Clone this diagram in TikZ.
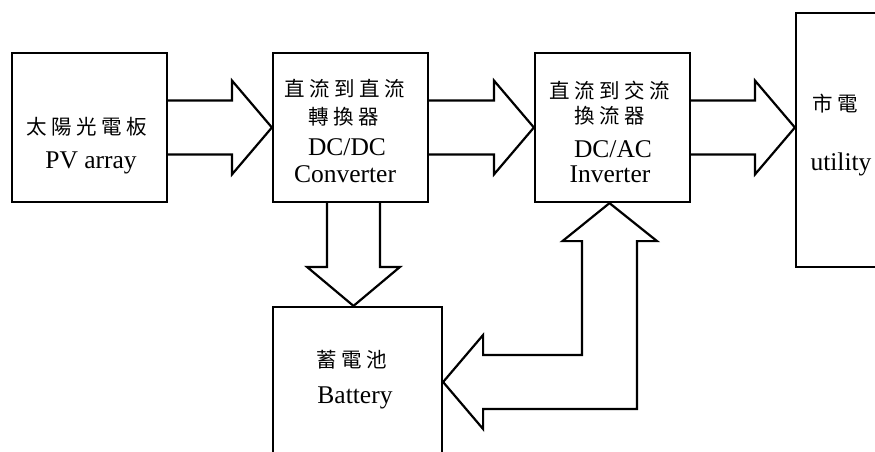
\documentclass[tikz,border=0pt]{standalone}
\usepackage{fontspec}
\setmainfont{Liberation Serif}
\newfontfamily\cjkf{Noto Sans CJK TC}
\usetikzlibrary{calc}
\def\cjs#1{{\cjkf\fontsize{20.5}{22}\selectfont\cjsi#1\relax\unskip}}
\def\cjsi#1{\ifx#1\relax\else#1\hspace{4.5pt}\expandafter\cjsi\fi}
\begin{document}
\begin{tikzpicture}[x=1pt,y=-1pt,line width=2.2pt,line join=miter,
  box/.style={draw,rectangle,inner sep=0pt,minimum width=155pt,minimum height=149pt},
  lat/.style={anchor=base,inner sep=0pt,font=\fontsize{25.5}{28}\selectfont},
  cjt/.style={anchor=base,inner sep=0pt},
  blk/.style={draw,line width=2.2pt}]
\useasboundingbox (0,0) rectangle (875,451);
\clip (0,0) rectangle (875,451);
% boxes
\node[box] (pv) at (89.5,127.5) {};
\node[box] (dc) at (350.5,127.5) {};
\node[box] (inv) at (612.5,127.5) {};
\node[box,minimum width=160pt,minimum height=254pt] (ut) at (876,140) {};
\node[box,minimum width=169pt,minimum height=160pt] (bat) at (357.5,387) {};
% texts
\node[cjt] (t1) at (87,134) {\cjs{太陽光電板}};
\node[lat] (t2) at (91,168) {PV array};
\node[cjt] (t3) at (345,96) {\cjs{直流到直流}};
\node[cjt] (t4) at (344,124) {\cjs{轉換器}};
\node[lat] (t5) at (347,155) {DC/DC};
\node[lat] (t6) at (345,182) {Converter};
\node[cjt] (t7) at (610,98) {\cjs{直流到交流}};
\node[cjt] (t8) at (610,123) {\cjs{換流器}};
\node[lat] (t9) at (613,157) {DC/AC};
\node[lat] (t10) at (610,182) {Inverter};
\node[cjt] (t11) at (835,111) {\cjs{市電}};
\node[lat] (t12) at (841,170) {utility};
\node[cjt] (t13) at (352,367) {\cjs{蓄電池}};
\node[lat] (t14) at (355,403) {Battery};
% horizontal block arrows
\draw[blk] ($(pv.east)+(0,-27)$) -- ($(dc.west)+(-40,-27)$) -- ($(dc.west)+(-40,-47)$) -- (dc.west)
  -- ($(dc.west)+(-40,47)$) -- ($(dc.west)+(-40,27)$) -- ($(pv.east)+(0,27)$);
\draw[blk] ($(dc.east)+(0,-27)$) -- ($(inv.west)+(-40,-27)$) -- ($(inv.west)+(-40,-47)$) -- (inv.west)
  -- ($(inv.west)+(-40,47)$) -- ($(inv.west)+(-40,27)$) -- ($(dc.east)+(0,27)$);
\coordinate (ht) at (inv.east -| ut.west);
\draw[blk] ($(inv.east)+(0,-27)$) -- ($(ht)+(-40,-27)$) -- ($(ht)+(-40,-47)$) -- (ht)
  -- ($(ht)+(-40,47)$) -- ($(ht)+(-40,27)$) -- ($(inv.east)+(0,27)$);
% down arrow DC/DC -> battery
\coordinate (ds) at ($(dc.south)+(3,0)$);
\coordinate (dt) at (ds |- bat.north);
\draw[blk] ($(ds)+(-26.5,0)$) -- ($(dt)+(-26.5,-39)$) -- ($(dt)+(-46.5,-39)$) -- (dt)
  -- ($(dt)+(46.5,-39)$) -- ($(dt)+(26.5,-39)$) -- ($(ds)+(26.5,0)$);
% bidirectional bent arrow battery <-> inverter
\coordinate (up) at ($(inv.south)+(-3,0)$);
\coordinate (lt) at ($(bat.east)+(0,-5)$);
\coordinate (cr) at (up |- lt);
\draw[blk] (up) -- ($(up)+(47.5,38)$) -- ($(up)+(27.5,38)$) -- ($(cr)+(27.5,27)$)
  -- ($(lt)+(40,27)$) -- ($(lt)+(40,47)$) -- (lt) -- ($(lt)+(40,-47)$) -- ($(lt)+(40,-27)$)
  -- ($(cr)+(-27.5,-27)$) -- ($(up)+(-27.5,38)$) -- ($(up)+(-47,38)$) -- cycle;
\end{tikzpicture}
\end{document}
